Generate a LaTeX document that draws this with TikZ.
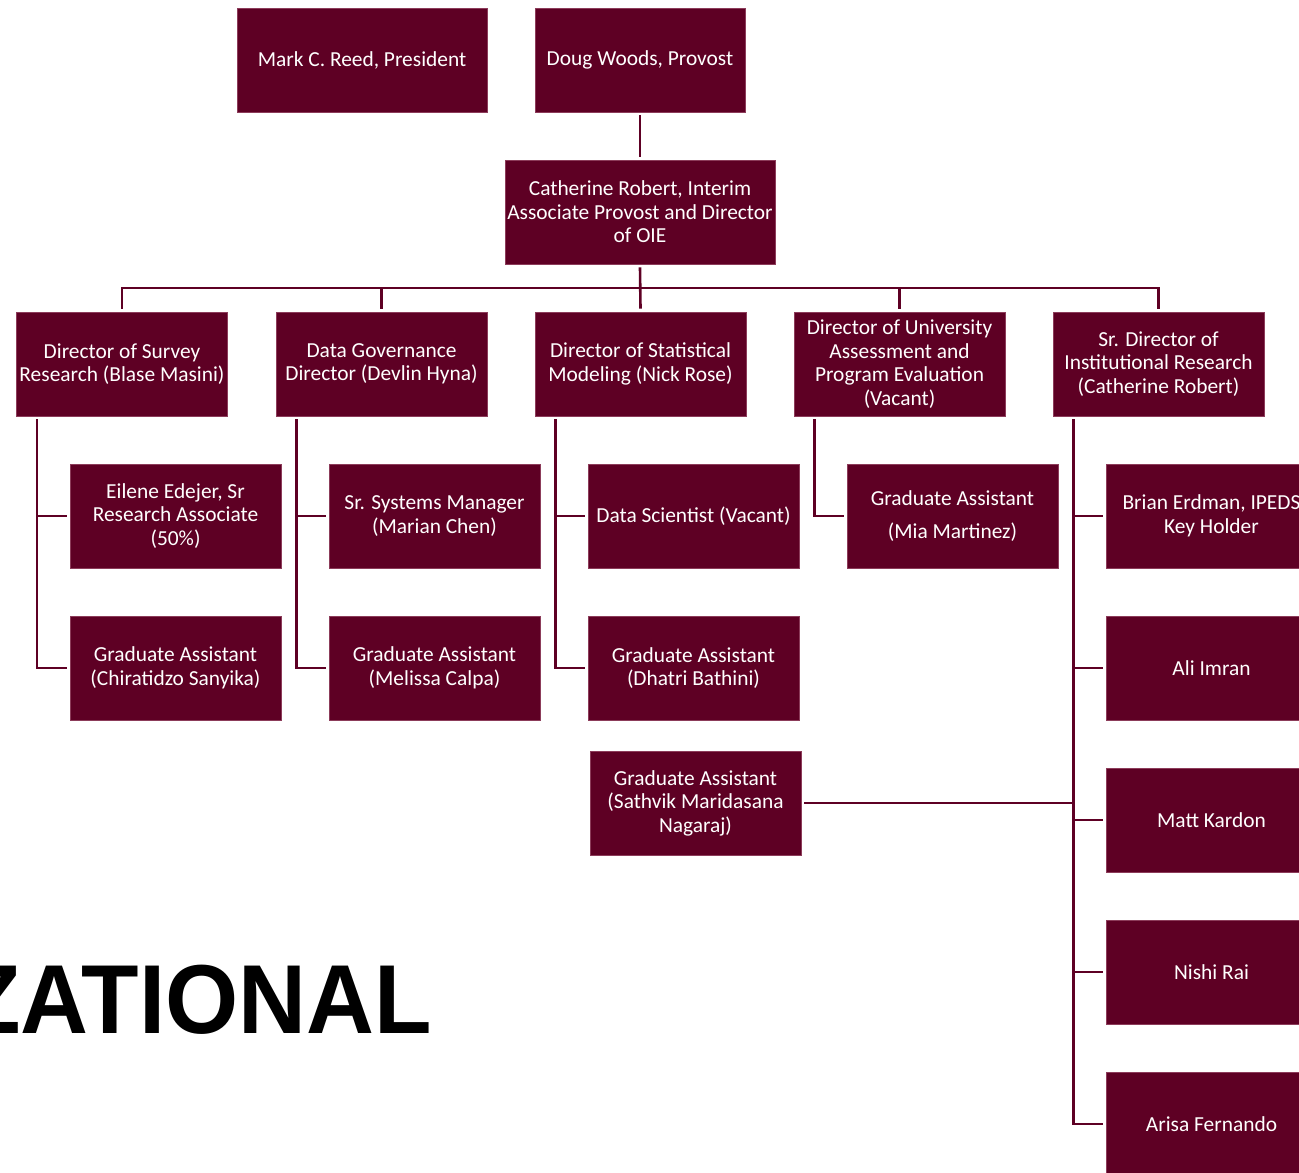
\documentclass[tikz,border=0pt]{standalone}
\usepackage{fontspec}
\newfontfamily\boxfamily{Carlito}
\newfontfamily\titlefamily{Liberation Sans}
\newcommand\boxfont{\boxfamily\fontsize{21.4}{23.5}\selectfont}
\newcommand\titlefont{\titlefamily\bfseries\fontsize{98}{110}\selectfont}
\definecolor{oie}{RGB}{94,0,36}
\definecolor{oieedge}{RGB}{140,60,90}
\tikzset{
  box/.style={draw=oieedge, line width=0.7pt, fill=oie, text=white,
    minimum width=211pt, minimum height=104pt, inner sep=0pt,
    align=center, font=\boxfont},
  conn/.style={draw=oie, line width=2.6pt}
}
\begin{document}
\begin{tikzpicture}[x=1pt,y=-1pt]
\useasboundingbox (0,0) rectangle (1299,1173);
\clip (0,0) rectangle (1299,1173);
% top
\node[box, minimum width=250pt] (pres) at (362,60) {Mark C. Reed, President};
\node[box, minimum width=210pt] (prov) at (640,60) {Doug Woods, Provost};
\node[box, minimum width=270pt] (cath) at (640,212) {Catherine Robert, Interim\\Associate Provost and Director\\of OIE};
% level 2
\node[box] (surv) at (122,364) {Director of Survey\\Research (Blase Masini)};
\node[box] (dgov) at (381.5,364) {Data Governance\\Director (Devlin Hyna)};
\node[box] (stat) at (640.5,364) {Director of Statistical\\Modeling (Nick Rose)};
\node[box] (univ) at (899.5,364) {Director of University\\Assessment and\\Program Evaluation\\(Vacant)};
\node[box] (srdir) at (1158.5,364) {Sr. Director of\\Institutional Research\\(Catherine Robert)};
% survey children
\node[box] (eil) at (175.5,516) {Eilene Edejer, Sr\\Research Associate\\(50\%)};
\node[box] (chi) at (175.5,668) {Graduate Assistant\\(Chiratidzo Sanyika)};
% data gov children
\node[box] (mar) at (434.5,516) {Sr. Systems Manager\\(Marian Chen)};
\node[box] (mel) at (434.5,668) {Graduate Assistant\\(Melissa Calpa)};
% stat children
\node[box] (dsci) at (693.5,516) {Data Scientist (Vacant)};
\node[box] (dha) at (693.5,668) {Graduate Assistant\\(Dhatri Bathini)};
\node[box] (sat) at (695.5,803) {Graduate Assistant\\(Sathvik Maridasana\\Nagaraj)};
% univ child
\node[box] (mia) at (952.5,516) {Graduate Assistant\\[9.5pt](Mia Martinez)};
% sr dir children
\node[box] (bri) at (1211.5,516) {Brian Erdman, IPEDS\\Key Holder};
\node[box] (ali) at (1211.5,668) {Ali Imran};
\node[box] (mat) at (1211.5,820) {Matt Kardon};
\node[box] (nis) at (1211.5,972) {Nishi Rai};
\node[box] (ari) at (1211.5,1124) {Arisa Fernando};
% title fragment
\node[font=\titlefont, anchor=base east, inner sep=0pt, text=black] (title) at (432,1033) {\scalebox{0.96}[1]{ZATIONAL}};
% connectors
\coordinate (busy) at (0,288);
\draw[conn] ([yshift=-3pt]prov.south) -- ([yshift=3pt]cath.north);
\draw[conn] ([yshift=-3pt]cath.south) -- ([yshift=3pt]stat.north);
\draw[conn] ([yshift=3pt]surv.north) -- (surv.north |- busy) -- (srdir.north |- busy) -- ([yshift=3pt]srdir.north);
\draw[conn] ([yshift=3pt]dgov.north) -- (dgov.north |- busy);
\draw[conn] ([yshift=3pt]univ.north) -- (univ.north |- busy);
% survey
\draw[conn] ([xshift=21pt,yshift=-3pt]surv.south west) |- ([xshift=-3pt]chi.west);
\draw[conn] ([xshift=21pt]surv.south west |- eil.west) -- ([xshift=-3pt]eil.west);
% dgov
\draw[conn] ([xshift=21pt,yshift=-3pt]dgov.south west) |- ([xshift=-3pt]mel.west);
\draw[conn] ([xshift=21pt]dgov.south west |- mar.west) -- ([xshift=-3pt]mar.west);
% stat
\draw[conn] ([xshift=21pt,yshift=-3pt]stat.south west) |- ([xshift=-3pt]dha.west);
\draw[conn] ([xshift=21pt]stat.south west |- dsci.west) -- ([xshift=-3pt]dsci.west);
% univ
\draw[conn] ([xshift=21pt,yshift=-3pt]univ.south west) |- ([xshift=-3pt]mia.west);
% sr dir
\coordinate (srx) at ([xshift=21pt]srdir.south west);
\draw[conn] ([xshift=21pt,yshift=-3pt]srdir.south west) |- ([xshift=-3pt]ari.west);
\draw[conn] (srx |- bri.west) -- ([xshift=-3pt]bri.west);
\draw[conn] (srx |- ali.west) -- ([xshift=-3pt]ali.west);
\draw[conn] (srx |- mat.west) -- ([xshift=-3pt]mat.west);
\draw[conn] (srx |- nis.west) -- ([xshift=-3pt]nis.west);
\draw[conn] ([xshift=3pt]sat.east) -- (srx |- sat.east);
\end{tikzpicture}
\end{document}
